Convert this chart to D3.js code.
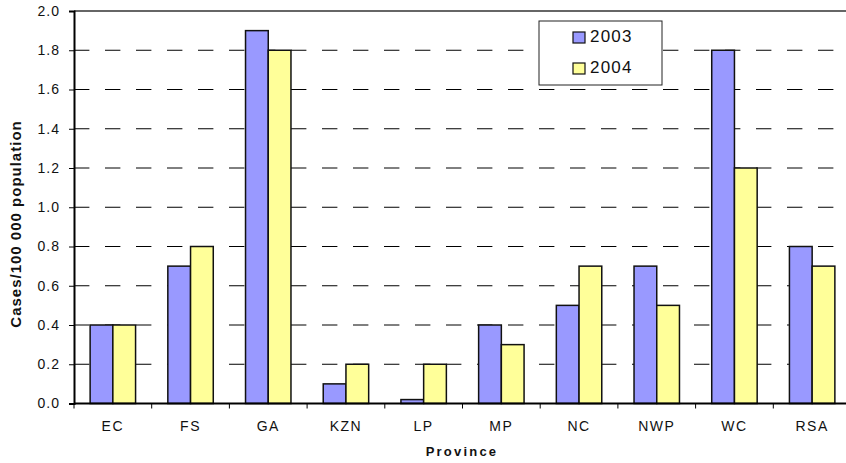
<!DOCTYPE html>
<html>
<head>
<meta charset="utf-8">
<script src="https://cdn.jsdelivr.net/npm/d3@7"></script>
<style>
  html, body { margin: 0; padding: 0; background: #fff; }
  svg { display: block; font-family: "Liberation Sans", Arial, sans-serif; }
</style>
</head>
<body>
<svg id="chart" width="846" height="463"></svg>
<script>
// Notified cases per 100 000 population, by province
const provinces = ["EC", "FS", "GA", "KZN", "LP", "MP", "NC", "NWP", "WC", "RSA"];
const years = ["2003", "2004"];
const rates2003 = [0.4, 0.7, 1.9, 0.1, 0.02, 0.4, 0.5, 0.7, 1.8, 0.8];
const rates2004 = [0.4, 0.8, 1.8, 0.2, 0.2, 0.3, 0.7, 0.5, 1.2, 0.7];
const yTicks = [0, 0.2, 0.4, 0.6, 0.8, 1.0, 1.2, 1.4, 1.6, 1.8, 2.0];
const colours = ["#9999ff", "#ffff99"];

(function () {
const rows = provinces.map((p, i) => ({ province: p, values: [rates2003[i], rates2004[i]] }));

const svg = d3.select("#chart");
const plotLeft = 74, plotRight = 851, plotTop = 11, plotBottom = 403.5;

const x = d3.scaleBand().domain(provinces).range([plotLeft, plotRight]).paddingInner(0).paddingOuter(0);
const xi = d3.scaleBand().domain(years).range([0, x.bandwidth()]).paddingInner(0).paddingOuter(0.71);
const y = d3.scaleLinear().domain([0, 2]).range([plotBottom, plotTop]);

// dashed horizontal gridlines
svg.append("g")
  .selectAll("line")
  .data(yTicks.filter(t => t > 0 && t < 2))
  .join("line")
  .attr("x1", plotLeft).attr("x2", 846)
  .attr("y1", d => y(d)).attr("y2", d => y(d))
  .attr("stroke", "#000").attr("stroke-width", 1)
  .attr("stroke-dasharray", "15.4,15.6");

// top border of the plot area
svg.append("line")
  .attr("x1", plotLeft).attr("x2", 846).attr("y1", y(2)).attr("y2", y(2))
  .attr("stroke", "#333").attr("stroke-width", 1.5);

// bars
const groups = svg.append("g")
  .selectAll("g")
  .data(rows)
  .join("g")
  .attr("transform", d => `translate(${x(d.province)},0)`);

groups.selectAll("rect")
  .data(d => d.values.map((v, j) => ({ year: years[j], value: v, j })))
  .join("rect")
  .attr("x", d => xi(d.year))
  .attr("width", xi.bandwidth())
  .attr("y", d => y(d.value))
  .attr("height", d => plotBottom - y(d.value))
  .attr("fill", d => colours[d.j])
  .attr("stroke", "#111").attr("stroke-width", 1.5);

// y axis
const yAxis = svg.append("g")
  .attr("transform", `translate(${plotLeft},0)`)
  .call(d3.axisLeft(y).tickValues(yTicks).tickFormat(d3.format(".1f")).tickSize(5).tickPadding(9));
yAxis.select(".domain").attr("stroke", "#000").attr("stroke-width", 2);
yAxis.selectAll(".tick line").attr("stroke", "#000");
yAxis.selectAll(".tick text").attr("font-size", 14).attr("fill", "#111")
  .attr("letter-spacing", 1)
  .attr("font-family", "'Liberation Sans', Arial, sans-serif");

// x axis with ticks at category boundaries
const xAxis = svg.append("g").attr("transform", `translate(0,${plotBottom})`);
xAxis.append("line").attr("x1", plotLeft).attr("x2", 846).attr("y1", 0).attr("y2", 0)
  .attr("stroke", "#000").attr("stroke-width", 2);
xAxis.selectAll("line.tk")
  .data(provinces)
  .join("line").attr("class", "tk")
  .attr("x1", d => x(d)).attr("x2", d => x(d))
  .attr("y1", 0).attr("y2", 5)
  .attr("stroke", "#000").attr("stroke-width", 1);
xAxis.selectAll("text")
  .data(provinces)
  .join("text")
  .attr("x", d => x(d) + x.bandwidth() / 2)
  .attr("y", 27)
  .attr("text-anchor", "middle")
  .attr("font-size", 14)
  .attr("letter-spacing", 1.5)
  .attr("fill", "#111")
  .text(d => d);

// axis titles
svg.append("text")
  .attr("transform", "translate(21,224) rotate(-90)")
  .attr("text-anchor", "middle")
  .attr("font-size", 15).attr("font-weight", "bold").attr("fill", "#111")
  .attr("letter-spacing", 1)
  .text("Cases/100 000 population");

svg.append("text")
  .attr("x", 462).attr("y", 456)
  .attr("text-anchor", "middle")
  .attr("font-size", 13).attr("font-weight", "bold").attr("fill", "#111")
  .attr("letter-spacing", 2.2)
  .text("Province");

// legend
const legend = svg.append("g").attr("transform", "translate(539,21)");
legend.append("rect").attr("width", 123).attr("height", 64)
  .attr("fill", "#fff").attr("stroke", "#222").attr("stroke-width", 1);
const items = legend.selectAll("g.item")
  .data(years)
  .join("g").attr("class", "item")
  .attr("transform", (d, i) => `translate(34,${11 + i * 31})`);
items.append("rect").attr("width", 12).attr("height", 11)
  .attr("fill", (d, i) => colours[i]).attr("stroke", "#111").attr("stroke-width", 1.2);
items.append("text").attr("x", 17).attr("y", 10)
  .attr("font-size", 17).attr("letter-spacing", 1.2).attr("fill", "#111")
  .text(d => d);
})();
</script>
</body>
</html>
